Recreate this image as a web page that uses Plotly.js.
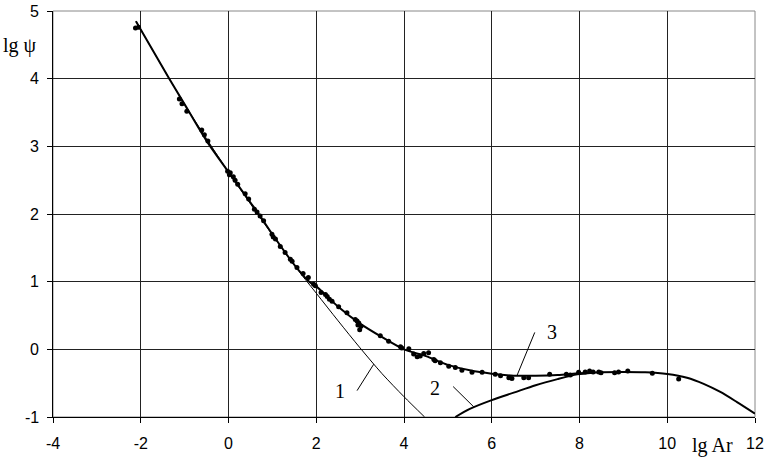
<!DOCTYPE html>
<html><head><meta charset="utf-8">
<script src="https://cdn.plot.ly/plotly-3.0.1.min.js"></script>
<style>html,body{margin:0;padding:0;background:#fff}#chart{width:770px;height:463px}</style>
</head><body><div id="chart"></div>
<script>
// curve 3 (combined)
const curve3X = [-2.11,-1.35,-1.0,-0.5,0,0.5,0.72,1.0,1.5,1.84,2.0,2.5,3.0,3.5,4.0,4.5,5.0,5.5,6.0,6.5,7.0,7.5,8.0,8.5,9.0,9.5,10.0,10.45,10.83,11.21,11.59,12.0];
const curve3Y = [4.85,4.0,3.62,3.08,2.62,2.17,1.97,1.70,1.25,1.0,0.93,0.63,0.38,0.18,0.0,-0.10,-0.23,-0.31,-0.36,-0.39,-0.39,-0.38,-0.355,-0.34,-0.335,-0.34,-0.365,-0.42,-0.51,-0.63,-0.78,-0.95];
// curve 1
const line1X = [-2.11,-1.0,0,1.0,1.5,2.0,2.5,3.0,3.5,4.0,4.47];
const line1Y = [4.85,3.62,2.62,1.69,1.24,0.83,0.42,0.02,-0.36,-0.70,-1.0];
// curve 2
const line2X = [5.17,5.5,6.0,6.5,7.0,7.5,7.95,8.3];
const line2Y = [-1.0,-0.88,-0.75,-0.64,-0.53,-0.44,-0.37,-0.345];
// experimental points
const ptsX = [-2.12,-2.05,-1.12,-1.06,-0.95,-0.61,-0.55,-0.47,-0.02,0.02,0.04,0.11,0.15,0.21,0.38,0.46,0.59,0.65,0.72,0.80,0.99,1.02,1.07,1.18,1.29,1.41,1.45,1.56,1.70,1.82,1.94,1.98,2.11,2.21,2.25,2.30,2.36,2.51,2.70,2.89,2.93,2.95,2.97,2.99,3.02,3.46,3.65,3.92,3.95,4.11,4.22,4.30,4.37,4.45,4.56,4.68,4.71,4.83,5.02,5.17,5.32,5.55,5.78,6.08,6.20,6.39,6.46,6.73,6.84,7.32,7.70,7.79,7.98,8.13,8.23,8.31,8.44,8.49,8.80,8.89,9.10,9.66,10.26];
const ptsY = [4.75,4.76,3.70,3.63,3.52,3.24,3.17,3.08,2.63,2.58,2.61,2.55,2.50,2.44,2.30,2.22,2.07,2.03,1.97,1.90,1.70,1.66,1.63,1.52,1.43,1.33,1.30,1.21,1.12,1.06,0.96,0.94,0.84,0.81,0.78,0.74,0.71,0.63,0.54,0.44,0.42,0.36,0.39,0.29,0.34,0.20,0.12,0.04,0.02,0.01,-0.07,-0.11,-0.10,-0.06,-0.05,-0.15,-0.17,-0.20,-0.25,-0.27,-0.31,-0.34,-0.34,-0.37,-0.39,-0.42,-0.43,-0.42,-0.42,-0.37,-0.37,-0.38,-0.34,-0.335,-0.32,-0.335,-0.335,-0.345,-0.345,-0.335,-0.32,-0.355,-0.44];
// ticks
const xTickVals = [-4,-2,0,2,4,6,8,10,12];
const xTickText = ["-4","-2","0","2","4","6","8","10","12"];
const yTickVals = [-1,0,1,2,3,4,5];
const yTickText = ["-1","0","1","2","3","4","5"];
// curve labels
const curveLabels = ["1","2","3"];
const labelX = [2.53,4.71,7.37];
const labelY = [-0.62,-0.57,0.25];
const leaderX0 = [2.93,5.12,6.98], leaderY0 = [-0.61,-0.55,0.25];
const leaderX1 = [3.31,5.59,6.58], leaderY1 = [-0.22,-0.85,-0.38];

const serif = "Liberation Serif";
const sans = "Liberation Sans";
const traces = [
  {x: line1X, y: line1Y, mode: 'lines', line: {color: '#000', width: 1, shape: 'spline', smoothing: 0.8}, hoverinfo: 'skip'},
  {x: line2X, y: line2Y, mode: 'lines', line: {color: '#000', width: 2, shape: 'spline', smoothing: 0.8}, hoverinfo: 'skip'},
  {x: curve3X, y: curve3Y, mode: 'lines', line: {color: '#000', width: 2, shape: 'spline', smoothing: 0.8}, hoverinfo: 'skip'},
  {x: ptsX, y: ptsY, mode: 'markers', marker: {color: '#000', size: 5}, hoverinfo: 'skip'}
];
const shapes = [{type: 'rect', xref: 'paper', yref: 'paper', x0: 0, x1: 1, y0: 0, y1: 1, line: {color: '#888', width: 1}, layer: 'below'}];
const annotations = [];
for (let i = 0; i < curveLabels.length; i++) {
  shapes.push({type: 'line', xref: 'x', yref: 'y', x0: leaderX0[i], y0: leaderY0[i], x1: leaderX1[i], y1: leaderY1[i], line: {color: '#000', width: 1}});
  annotations.push({x: labelX[i], y: labelY[i], xref: 'x', yref: 'y', text: curveLabels[i], showarrow: false, font: {family: serif, size: 20, color: '#000'}});
}
// y tick labels (right-aligned next to the axis)
for (let i = 0; i < yTickVals.length; i++) {
  annotations.push({xref: 'paper', yref: 'y', x: 0, y: yTickVals[i], xanchor: 'right', yanchor: 'middle', xshift: -12,
    text: yTickText[i], showarrow: false, font: {family: sans, size: 16, color: '#000'}});
}
annotations.push({xref: 'paper', yref: 'paper', x: -0.047, y: 0.916, text: 'lg ψ', showarrow: false, xanchor: 'center', yanchor: 'middle', font: {family: serif, size: 20, color: '#000'}});
annotations.push({xref: 'paper', yref: 'paper', x: 0.939, y: -0.069, text: 'lg Ar', showarrow: false, xanchor: 'center', yanchor: 'middle', font: {family: serif, size: 20, color: '#000'}});

const layout = {
  width: 770, height: 463,
  margin: {l: 53, r: 15, t: 11, b: 46},
  paper_bgcolor: '#fff', plot_bgcolor: '#fff',
  showlegend: false,
  xaxis: {range: [-4, 12], tickvals: xTickVals, ticktext: xTickText, showgrid: true, gridcolor: '#222', gridwidth: 1,
    zeroline: false, showline: true, linecolor: '#000', linewidth: 1, ticks: 'outside', ticklen: 5, tickcolor: '#000',
    ticklabelstandoff: 7, tickfont: {family: sans, size: 16, color: '#000'}},
  yaxis: {range: [-1, 5], tickvals: yTickVals, showticklabels: false, showgrid: true, gridcolor: '#222', gridwidth: 1,
    zeroline: false, showline: true, linecolor: '#000', linewidth: 1, ticks: 'outside', ticklen: 5, tickcolor: '#000'},
  shapes: shapes,
  annotations: annotations
};
Plotly.newPlot('chart', traces, layout, {staticPlot: true, displayModeBar: false});
</script></body></html>
